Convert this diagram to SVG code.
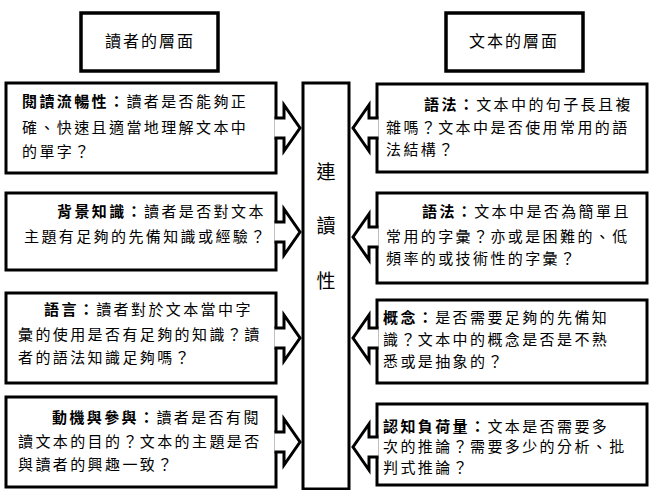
<svg xmlns="http://www.w3.org/2000/svg" width="654" height="490" viewBox="0 0 654 490">
<style>
.box{fill:#fff;stroke:#000;stroke-width:3}
.hdr{fill:#fff;stroke:#000;stroke-width:3.5}
.arr{fill:#fff;stroke:#000;stroke-width:3;stroke-linejoin:miter}
text{font-family:"Noto Sans CJK TC","Noto Sans CJK SC",sans-serif;fill:#000}
.t{font-size:15px;letter-spacing:2.4px}
.h{font-size:16px;letter-spacing:2px}
.c{font-size:19px}
.b{font-weight:bold}
</style>
<rect width="654" height="490" fill="#fff"/>
<g id="header-reader"><rect class="hdr" x="81" y="13" width="137" height="58"/><text class="h" x="150" y="47" text-anchor="middle">讀者的層面</text></g>
<g id="header-text"><rect class="hdr" x="446" y="13" width="137" height="58"/><text class="h" x="514" y="47" text-anchor="middle">文本的層面</text></g>
<g id="readability"><rect class="box" x="303" y="83" width="46" height="406"/>
<text class="c" x="326" y="179" text-anchor="middle">連</text>
<text class="c" x="326" y="233" text-anchor="middle">讀</text>
<text class="c" x="326" y="288" text-anchor="middle">性</text></g>
<g id="reader-fluency"><rect class="box" x="6" y="83" width="270" height="90"/>
<text class="t" x="22" y="107"><tspan class="b">閱讀流暢性：</tspan>讀者是否能夠正</text>
<text class="t" x="22" y="133">確、快速且適當地理解文本中</text>
<text class="t" x="22" y="157">的單字？</text></g>
<g id="reader-background"><rect class="box" x="6" y="193" width="270" height="77"/>
<text class="t" x="57" y="217"><tspan class="b">背景知識：</tspan>讀者是否對文本</text>
<text class="t" x="24" y="242">主題有足夠的先備知識或經驗？</text></g>
<g id="reader-language"><rect class="box" x="6" y="293" width="270" height="90"/>
<text class="t" x="44" y="315"><tspan class="b">語言：</tspan>讀者對於文本當中字</text>
<text class="t" x="18" y="340">彙的使用是否有足夠的知識？讀</text>
<text class="t" x="18" y="363">者的語法知識足夠嗎？</text></g>
<g id="reader-motivation"><rect class="box" x="6" y="397" width="270" height="90"/>
<text class="t" x="52" y="423"><tspan class="b">動機與參與：</tspan>讀者是否有閱</text>
<text class="t" x="18" y="447">讀文本的目的？文本的主題是否</text>
<text class="t" x="18" y="470">與讀者的興趣一致？</text></g>
<g id="text-syntax"><rect class="box" x="377" y="84" width="270" height="88"/>
<text class="t" x="424" y="110"><tspan class="b">語法：</tspan>文本中的句子長且複</text>
<text class="t" x="386" y="133">雜嗎？文本中是否使用常用的語</text>
<text class="t" x="386" y="155">法結構？</text></g>
<g id="text-vocabulary"><rect class="box" x="377" y="193" width="270" height="90"/>
<text class="t" x="422" y="217"><tspan class="b">語法：</tspan>文本中是否為簡單且</text>
<text class="t" x="386" y="242">常用的字彙？亦或是困難的、低</text>
<text class="t" x="386" y="264">頻率的或技術性的字彙？</text></g>
<g id="text-concept"><rect class="box" x="377" y="300" width="270" height="83"/>
<text class="t" x="383" y="323"><tspan class="b">概念：</tspan>是否需要足夠的先備知</text>
<text class="t" x="383" y="345">識？文本中的概念是否是不熟</text>
<text class="t" x="383" y="367">悉或是抽象的？</text></g>
<g id="text-cognitive"><rect class="box" x="377" y="404" width="270" height="81"/>
<text class="t" x="383" y="432"><tspan class="b">認知負荷量：</tspan>文本是否需要多</text>
<text class="t" x="383" y="452">次的推論？需要多少的分析、批</text>
<text class="t" x="383" y="473">判式推論？</text></g>
<g id="connectors">
<path class="arr" d="M274.5 118 H284 V105 L300 128 L284 151 V138 H274.5"/>
<path class="arr" d="M274.5 222 H284 V209 L300 232 L284 255 V242 H274.5"/>
<path class="arr" d="M274.5 328 H284 V315 L300 338 L284 361 V348 H274.5"/>
<path class="arr" d="M274.5 432 H284 V419 L300 442 L284 465 V452 H274.5"/>
<path class="arr" d="M378.5 118 H369 V105 L353 128 L369 151 V138 H378.5"/>
<path class="arr" d="M378.5 227 H369 V214 L353 237 L369 260 V247 H378.5"/>
<path class="arr" d="M378.5 328 H369 V315 L353 338 L369 361 V348 H378.5"/>
<path class="arr" d="M378.5 437 H369 V424 L353 447 L369 470 V457 H378.5"/>
</g>
</svg>
